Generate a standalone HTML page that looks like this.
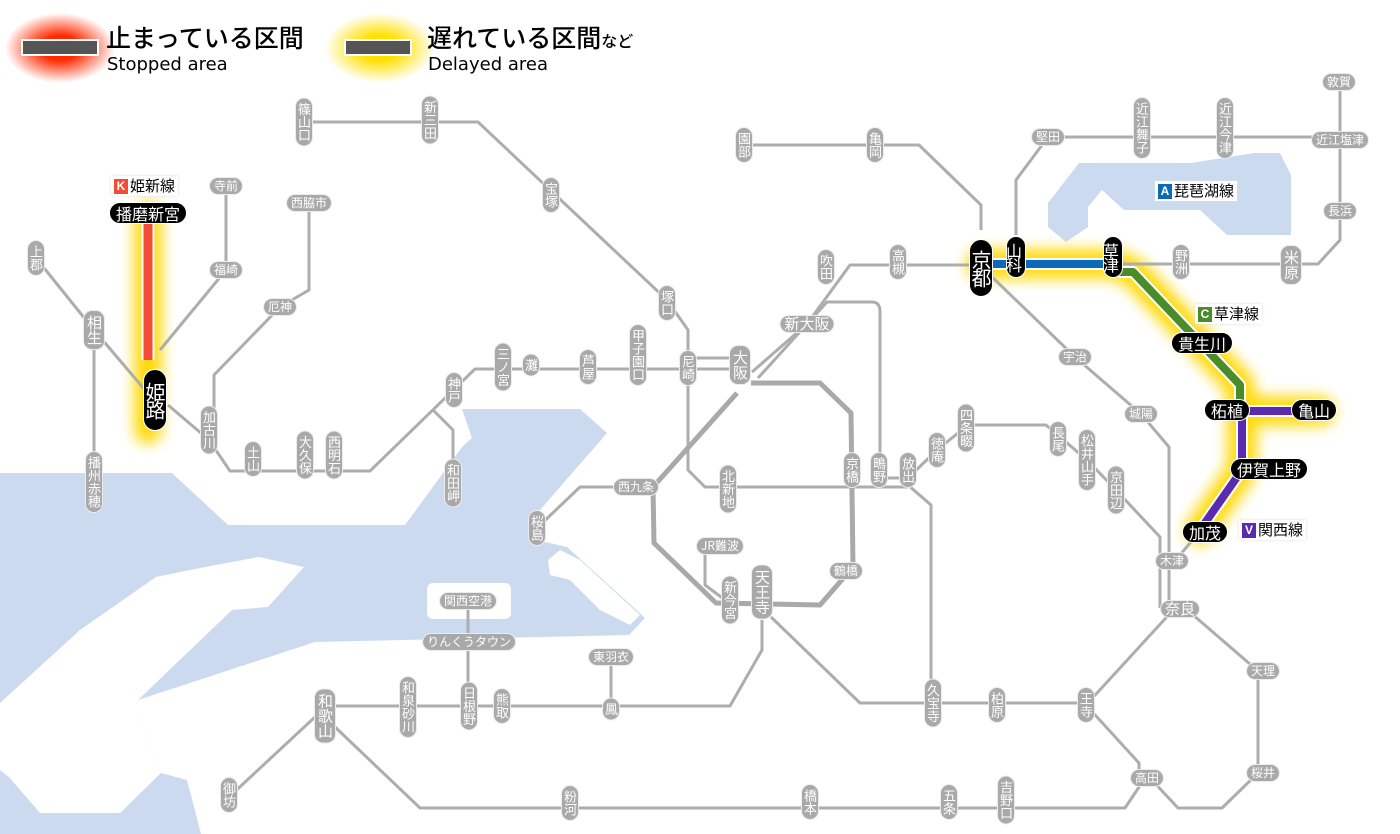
<!DOCTYPE html>
<html><head><meta charset="utf-8">
<style>
html,body{margin:0;padding:0;background:#fff;}
body{width:1400px;height:834px;position:relative;overflow:hidden;font-family:"Liberation Sans","Noto Sans CJK JP",sans-serif;}
svg{position:absolute;left:0;top:0;}
.p{position:absolute;transform:translate(-50%,-50%);background:#a9a9a9;color:#fff;font-size:12px;border:1.5px solid #ececec;white-space:nowrap;font-family:"Noto Sans CJK JP",sans-serif;}
.h{height:16px;line-height:16px;padding:0 4px;border-radius:9px;}
.v{writing-mode:vertical-rl;text-orientation:upright;width:16px;line-height:16px;padding:4px 0;border-radius:9px;font-size:13px;letter-spacing:0px;}
.b{background:#000;border:1.5px solid #fff;font-size:16px;}
.b.h{height:20px;line-height:20px;padding:0 6px;border-radius:11px;}
.b.v{width:22px;line-height:22px;padding:6px 0;border-radius:12px;letter-spacing:-2px;}
.big{font-size:15px;}
.v.big{width:20px;line-height:20px;}
.lab{position:absolute;background:#fff;padding:1px 3px;font-size:15px;color:#000;font-family:"Noto Sans CJK JP",sans-serif;box-shadow:0 0 3px #ddd;line-height:18px;}
.sq{display:inline-block;width:14px;height:15px;color:#fff;font-size:12px;text-align:center;line-height:15px;margin-right:2px;font-family:"Liberation Sans",sans-serif;font-weight:bold;vertical-align:1px;}
</style></head><body>
<svg width="1400" height="834" viewBox="0 0 1400 834">
<defs>
<filter id="bl" x="-50%" y="-50%" width="200%" height="200%"><feGaussianBlur stdDeviation="7"/></filter>
<radialGradient id="rg"><stop offset="0.35" stop-color="#ff2a00"/><stop offset="1" stop-color="#ff2a00" stop-opacity="0"/></radialGradient>
<radialGradient id="yg"><stop offset="0.35" stop-color="#ffe000"/><stop offset="1" stop-color="#ffe000" stop-opacity="0"/></radialGradient>
</defs>
<ellipse cx="60" cy="48" rx="55" ry="35" fill="url(#rg)"/>
<ellipse cx="380" cy="48" rx="55" ry="35" fill="url(#yg)"/>
<rect x="22" y="40" width="76" height="15" fill="#555" stroke="#fff" stroke-width="2"/>
<rect x="345" y="40" width="66" height="15" fill="#555" stroke="#fff" stroke-width="2"/>
<g fill="#ccdaf0">
<polygon points="0,473 172,473 228,525 405,525 462,447 472,438 462,409 580,409 607,433 540,510 536,540 567,547 645,618 629,635 315,642 138,700 138,713 161,773 187,780 201,834 0,834"/>
<polygon points="1048,203 1079,163 1191,163 1254,153 1280,153 1291,175 1291,235 1227,235 1200,210 1124,210 1102,190 1088,207 1088,227 1066,242 1048,227"/>
</g>
<g fill="#fff">
<polygon points="0,703 80,630 156,577 205,567 259,557 304,567 268,607 232,610 138,700 138,713 161,773 120,813 40,813 9,777 0,770"/>
<rect x="427" y="583" width="84" height="36" rx="6"/>
<polygon points="548,560 560,550 580,560 640,615 630,625 600,610 570,580 550,575"/>
</g>
<g filter="url(#bl)" stroke="#ffd800" fill="none" stroke-linecap="round" stroke-linejoin="round" opacity="0.95">
<path d="M148,215 V430" stroke-width="28"/>
<path d="M981,264 H1113 L1133,272 L1240,385 V411 H1320 M1242,411 V470 L1200,530" stroke-width="30"/>
</g>
<g stroke="#adadad" stroke-width="3" fill="none" stroke-linejoin="round">
<path d="M304,122 H478 L667,300 L688,330 V470 L705,487 H908"/>
<path d="M36,258 L94,330 L145,390 M94,330 V482"/>
<path d="M226,186 V270 L160,350"/>
<path d="M309,203 V290 L280,307 L214,375 V430"/>
<path d="M168,405 L209,440 L230,471 H370 L475,369 H740"/>
<path d="M433,410 L453,430 V483"/>
<path d="M688,358 H740"/>
<path d="M752,372 L807,324 L850,265 H981"/>
<path d="M758,378 L827,302 H872 Q880,302 880,312 V478 H908"/>
<path d="M981,230 V205 L919,145 H744"/>
<path d="M1016,235 V180 L1048,137 H1340"/>
<path d="M1113,264 H1318 L1340,240 V82"/>
<path d="M990,275 L1075,357 L1141,414 L1169,447 V608"/>
<path d="M908,478 L937,450 L968,425 H1046 L1087,460 L1116,490 L1160,537 V608"/>
<path d="M1200,531 L1180,555"/>
<path d="M1175,608 L1086,705 L1139,763 V787 L1125,808 H420 L335,727"/>
<path d="M1185,608 L1258,671 V773 L1222,808 H1178 L1150,778"/>
<path d="M315,717 L229,797"/>
<path d="M771,617 L860,703 H1086"/>
<path d="M908,485 L931,505 V703"/>
<path d="M762,620 V650 L730,706 H325"/>
<path d="M468,601 V706 M611,657 V709"/>
<path d="M705,546 V585 L725,600"/>
<path d="M615,487 H580 L537,528"/>
</g>
<path d="M737,393 L653,487 L654,543 L716,603 L820,605 L853,567 L851,413 L820,383 L751,383" stroke="#a9a9a9" stroke-width="5" fill="none" stroke-linejoin="round"/>
<g fill="none" stroke-linejoin="round">
<path d="M148,220 V360" stroke="#fff" stroke-width="13"/>
<path d="M148,220 V360" stroke="#f44b34" stroke-width="9"/>
<path d="M985,264 H1113" stroke="#fff" stroke-width="12"/>
<path d="M985,264 H1113" stroke="#0b6bb8" stroke-width="8"/>
<path d="M1118,272 L1133,272 L1240,385 V411" stroke="#fff" stroke-width="12"/>
<path d="M1118,272 L1133,272 L1240,385 V411" stroke="#4a8c2a" stroke-width="8"/>
<path d="M1240,411 H1310 M1242,411 V470 L1200,530" stroke="#fff" stroke-width="12"/>
<path d="M1240,411 H1310 M1242,411 V470 L1200,530" stroke="#5a2bb0" stroke-width="8"/>
</g>
</svg>

<div style="position:absolute;left:106px;top:22px;font-size:25px;line-height:30px;font-family:'Noto Sans CJK JP',sans-serif;font-weight:500;">止まっている区間</div>
<div style="position:absolute;left:107px;top:54px;font-size:18px;line-height:22px;font-family:'DejaVu Sans',sans-serif;">Stopped area</div>
<div style="position:absolute;left:427px;top:22px;font-size:25px;line-height:30px;font-family:'Noto Sans CJK JP',sans-serif;font-weight:500;">遅れている区間<span style="font-size:16px">など</span></div>
<div style="position:absolute;left:428px;top:54px;font-size:18px;line-height:22px;font-family:'DejaVu Sans',sans-serif;">Delayed area</div>

<div class="lab" style="left:111px;top:176px;"><span class="sq" style="background:#f44b34">K</span>姫新線</div>
<div class="lab" style="left:1155px;top:181px;"><span class="sq" style="background:#0b6bb8">A</span>琵琶湖線</div>
<div class="lab" style="left:1195px;top:304px;"><span class="sq" style="background:#4a8c2a">C</span>草津線</div>
<div class="lab" style="left:1239px;top:520px;"><span class="sq" style="background:#5a2bb0">V</span>関西線</div>

<div class="p v" style="left:304px;top:122px">篠山口</div>
<div class="p v" style="left:430px;top:120px">新三田</div>
<div class="p v" style="left:551px;top:195px">宝塚</div>
<div class="p v" style="left:667px;top:303px">塚口</div>
<div class="p h" style="left:226px;top:186px">寺前</div>
<div class="p h" style="left:309px;top:203px">西脇市</div>
<div class="p v" style="left:36px;top:258px">上郡</div>
<div class="p h" style="left:226px;top:270px">福崎</div>
<div class="p v big" style="left:94px;top:330px">相生</div>
<div class="p h" style="left:280px;top:307px">厄神</div>
<div class="p v" style="left:94px;top:482px">播州赤穂</div>
<div class="p v" style="left:209px;top:430px">加古川</div>
<div class="p v" style="left:253px;top:459px">土山</div>
<div class="p v" style="left:305px;top:455px">大久保</div>
<div class="p v" style="left:334px;top:455px">西明石</div>
<div class="p v" style="left:454px;top:390px">神戸</div>
<div class="p v" style="left:503px;top:367px">三ノ宮</div>
<div class="p v" style="left:531px;top:365px">灘</div>
<div class="p v" style="left:588px;top:367px">芦屋</div>
<div class="p v" style="left:638px;top:355px">甲子園口</div>
<div class="p v" style="left:688px;top:368px">尼崎</div>
<div class="p v big" style="left:740px;top:365px">大阪</div>
<div class="p h big" style="left:807px;top:324px">新大阪</div>
<div class="p v" style="left:826px;top:267px">吹田</div>
<div class="p v" style="left:898px;top:262px">高槻</div>
<div class="p v" style="left:744px;top:145px">園部</div>
<div class="p v" style="left:875px;top:145px">亀岡</div>
<div class="p v" style="left:453px;top:483px">和田岬</div>
<div class="p h" style="left:636px;top:487px">西九条</div>
<div class="p v" style="left:537px;top:528px">桜島</div>
<div class="p v" style="left:728px;top:489px">北新地</div>
<div class="p v" style="left:852px;top:470px">京橋</div>
<div class="p v" style="left:879px;top:470px">鴫野</div>
<div class="p v" style="left:908px;top:470px">放出</div>
<div class="p v" style="left:937px;top:450px">徳庵</div>
<div class="p v" style="left:966px;top:428px">四条畷</div>
<div class="p v" style="left:1058px;top:439px">長尾</div>
<div class="p v" style="left:1087px;top:460px">松井山手</div>
<div class="p v" style="left:1116px;top:490px">京田辺</div>
<div class="p h" style="left:1075px;top:357px">宇治</div>
<div class="p h" style="left:1141px;top:414px">城陽</div>
<div class="p h" style="left:1172px;top:561px">木津</div>
<div class="p h big" style="left:1180px;top:609px">奈良</div>
<div class="p h" style="left:1263px;top:671px">天理</div>
<div class="p h" style="left:1263px;top:773px">桜井</div>
<div class="p h" style="left:1147px;top:778px">高田</div>
<div class="p v" style="left:1086px;top:705px">王寺</div>
<div class="p v" style="left:997px;top:705px">柏原</div>
<div class="p v" style="left:933px;top:703px">久宝寺</div>
<div class="p h" style="left:720px;top:546px">JR難波</div>
<div class="p h" style="left:846px;top:571px">鶴橋</div>
<div class="p v" style="left:730px;top:600px">新今宮</div>
<div class="p v big" style="left:762px;top:592px">天王寺</div>
<div class="p h" style="left:468px;top:601px">関西空港</div>
<div class="p h" style="left:469px;top:642px">りんくうタウン</div>
<div class="p h" style="left:611px;top:657px">東羽衣</div>
<div class="p v" style="left:611px;top:709px">鳳</div>
<div class="p v" style="left:502px;top:706px">熊取</div>
<div class="p v" style="left:469px;top:706px">日根野</div>
<div class="p v" style="left:408px;top:707px">和泉砂川</div>
<div class="p v big" style="left:325px;top:716px">和歌山</div>
<div class="p v" style="left:229px;top:795px">御坊</div>
<div class="p v" style="left:570px;top:803px">粉河</div>
<div class="p v" style="left:810px;top:802px">橋本</div>
<div class="p v" style="left:949px;top:802px">五条</div>
<div class="p v" style="left:1006px;top:800px">吉野口</div>
<div class="p h" style="left:1048px;top:137px">堅田</div>
<div class="p v" style="left:1142px;top:128px">近江舞子</div>
<div class="p v" style="left:1225px;top:128px">近江今津</div>
<div class="p h" style="left:1339px;top:82px">敦賀</div>
<div class="p h" style="left:1340px;top:140px">近江塩津</div>
<div class="p h" style="left:1340px;top:211px">長浜</div>
<div class="p v" style="left:1181px;top:262px">野洲</div>
<div class="p v big" style="left:1291px;top:265px">米原</div>

<div class="p h b" style="left:148px;top:213px">播磨新宮</div>
<div class="p v b" style="left:155px;top:400px;font-size:20px;padding:12px 0;">姫路</div>
<div class="p v b" style="left:981px;top:268px;font-size:20px;padding:10px 0;">京都</div>
<div class="p v b" style="left:1016px;top:257px;width:18px;">山科</div>
<div class="p v b" style="left:1113px;top:257px;width:18px;">草津</div>
<div class="p h b" style="left:1202px;top:343px">貴生川</div>
<div class="p h b" style="left:1227px;top:410px">柘植</div>
<div class="p h b" style="left:1314px;top:410px">亀山</div>
<div class="p h b" style="left:1269px;top:469px">伊賀上野</div>
<div class="p h b" style="left:1205px;top:532px">加茂</div>
</body></html>
